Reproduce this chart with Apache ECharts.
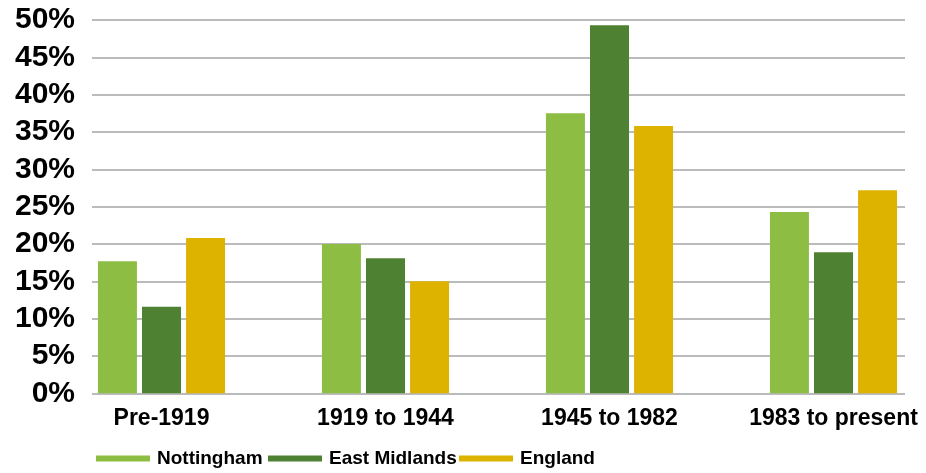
<!DOCTYPE html>
<html><head><meta charset="utf-8">
<script src="https://cdn.jsdelivr.net/npm/echarts@6/dist/echarts.min.js"></script>
<style>html,body{margin:0;padding:0;background:#fff}#c{width:926px;height:473px}</style>
</head><body><div id="c"></div>
<script>
const categories = ['Pre-1919', '1919 to 1944', '1945 to 1982', '1983 to present'];
const nottingham = [17.7, 20.0, 37.5, 24.3];
const eastMidlands = [11.6, 18.1, 49.3, 18.9];
const england = [20.8, 15.0, 35.8, 27.2];
const seriesNames = ['Nottingham', 'East Midlands', 'England'];
const colors = ['#8dbd43', '#4e8132', '#ddb300'];

const chart = echarts.init(document.getElementById('c'), null, {renderer: 'canvas'});
const bold = {fontFamily: 'Liberation Sans, Arial, sans-serif', fontWeight: 'bold', color: '#000'};
const mk = (name, data, i) => ({
  name, type: 'bar', data, xAxisIndex: 1, yAxisIndex: 1,
  barWidth: 39, barGap: '13%', itemStyle: {color: colors[i]}
});
const legendLeft = [96, 268, 459];
chart.setOption({
  animation: false,
  color: colors,
  grid: [
    {left: 92, width: 813, top: 20, height: 373.3, outerBoundsMode: 'none', containLabel: false},
    {left: 49.5, width: 896, top: 20, height: 373.3, outerBoundsMode: 'none', containLabel: false}
  ],
  xAxis: [
    {gridIndex: 0, type: 'category', data: categories, show: false},
    {gridIndex: 1, type: 'category', data: categories,
     axisLine: {show: false}, axisTick: {show: false},
     axisLabel: Object.assign({fontSize: 23, margin: 14, interval: 0}, bold)}
  ],
  yAxis: [
    {gridIndex: 0, type: 'value', min: 0, max: 50, interval: 5,
     axisLine: {show: false}, axisTick: {show: false},
     splitLine: {lineStyle: {color: '#a4a4a4', width: 1.5}},
     axisLabel: Object.assign({fontSize: 30, margin: 17, formatter: '{value}%'}, bold)},
    {gridIndex: 1, type: 'value', min: 0, max: 50, interval: 5, show: false, splitLine: {show: false}}
  ],
  legend: seriesNames.map((n, i) => ({
    left: legendLeft[i], top: 449, padding: 0, icon: 'rect', itemWidth: 54, itemHeight: 6,
    data: [n],
    textStyle: {fontFamily: 'Liberation Sans, Arial, sans-serif', fontWeight: 'bold', fontSize: 19, color: '#000', padding: [0, 0, 0, 2]}
  })),
  series: [mk(seriesNames[0], nottingham, 0), mk(seriesNames[1], eastMidlands, 1), mk(seriesNames[2], england, 2)]
});
</script></body></html>
